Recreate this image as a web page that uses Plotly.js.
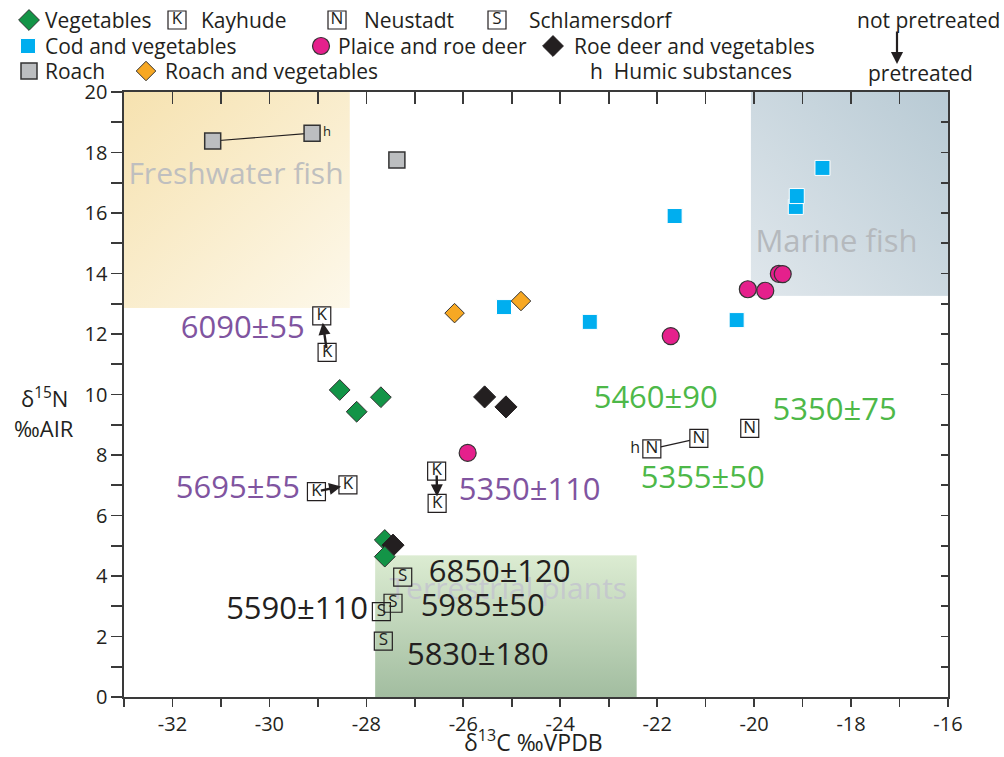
<!DOCTYPE html>
<html>
<head>
<meta charset="utf-8">
<script src="https://cdn.plot.ly/plotly-3.0.1.min.js"></script>
<style>html,body{margin:0;padding:0;background:#fff;}#chart{width:1004px;height:757px;}</style>
</head>
<body>
<div id="chart"></div>
<script>
// ---------------- DATA ----------------
const xRange = [-33, -16];
const yRange = [0, 20];
const xTickVals = [-32, -30, -28, -26, -24, -22, -20, -18, -16];
const yTickVals = [0, 2, 4, 6, 8, 10, 12, 14, 16, 18, 20];

const vegX = [-28.55, -28.20, -27.70, -27.62, -27.62];
const vegY = [10.15, 9.43, 9.91, 5.19, 4.64];

const codX = [-21.64, -18.59, -19.14, -19.12, -20.36, -25.16, -23.39];
const codY = [15.90, 17.49, 16.20, 16.56, 12.46, 12.89, 12.40];

const plaiceX = [-20.13, -19.77, -19.49, -19.41, -21.72, -25.91];
const plaiceY = [13.48, 13.43, 13.99, 13.98, 11.93, 8.07];

const roeX = [-25.56, -25.12, -27.45];
const roeY = [9.92, 9.59, 5.02];

const roachX = [-31.17, -29.12, -27.37];
const roachY = [18.38, 18.64, 17.75];
const roachHumic = [false, true, false];

const roachVegX = [-26.18, -24.81];
const roachVegY = [12.69, 13.09];

// Kayhude: not pretreated -> pretreated
const kayNotX = [-28.81, -29.03, -26.55];
const kayNotY = [11.39, 6.79, 7.47];
const kayPreX = [-28.92, -28.38, -26.54];
const kayPreY = [12.60, 7.01, 6.40];

const neuX = [-22.11, -21.14, -20.09];
const neuY = [8.20, 8.55, 8.88];
const neuHumic = [true, false, false];

const schX = [-27.25, -27.45, -27.69, -27.65];
const schY = [3.96, 3.10, 2.82, 1.85];

// radiocarbon dates
const kayDates = ['6090±55', '5695±55', '5350±110'];
const kayDateX = [-30.55, -30.65, -24.63];
const kayDateY = [12.13, 6.84, 6.78];

const neuDates = ['5460±90', '5350±75', '5355±50'];
const neuDateX = [-22.03, -18.34, -21.06];
const neuDateY = [9.82, 9.42, 7.17];

const schDates = ['6850±120', '5985±50', '5590±110', '5830±180'];
const schDateX = [-25.25, -25.60, -29.43, -25.70];
const schDateY = [4.07, 2.94, 2.84, 1.32];

// reference regions
const regionNames = ['Freshwater fish', 'Marine fish', 'Terrestrial plants'];
const regionX0 = [-33, -20.07, -27.82];
const regionX1 = [-28.34, -16, -22.42];
const regionY0 = [12.86, 13.26, 0];
const regionY1 = [20, 20, 4.69];
const regionLabelX = [-30.69, -18.30, -25.07];
const regionLabelY = [17.22, 14.98, 3.50];

// ---------------- STYLE ----------------
const FONT = 'Open Sans, Noto Sans, sans-serif';
const INK = '#231f20';
const PURPLE = '#8054a0';
const GREEN = '#4db848';
const regionGrad = [
  {c1: '#f6e2b0', c2: '#fdf8ea', x1: 0, y1: 0, x2: 1, y2: 1},
  {c1: '#b8cad4', c2: '#e0e7ec', x1: 1, y1: 0, x2: 0, y2: 1},
  {c1: '#dcecd2', c2: '#a2bda0', x1: 0, y1: 0, x2: 0, y2: 1}
];
const regionTextColor = ['#bfbfbf', '#b5b9bd', 'rgba(196,198,206,0.9)'];

function gradURI(g) {
  const svg = "<svg xmlns='http://www.w3.org/2000/svg' width='100' height='100' viewBox='0 0 100 100' preserveAspectRatio='none'>" +
    "<defs><linearGradient id='g' x1='" + g.x1 + "' y1='" + g.y1 + "' x2='" + g.x2 + "' y2='" + g.y2 + "'>" +
    "<stop offset='0' stop-color='" + g.c1 + "'/><stop offset='1' stop-color='" + g.c2 + "'/></linearGradient></defs>" +
    "<rect x='0' y='0' width='100' height='100' fill='url(#g)'/></svg>";
  return 'data:image/svg+xml;charset=utf-8,' + encodeURIComponent(svg);
}

const images = regionNames.map((n, i) => ({
  source: gradURI(regionGrad[i]), xref: 'x', yref: 'y',
  x: regionX0[i], y: regionY1[i],
  sizex: regionX1[i] - regionX0[i], sizey: regionY1[i] - regionY0[i],
  xanchor: 'left', yanchor: 'top', sizing: 'stretch', layer: 'below'
}));

const traces = [];

// region labels
traces.push({
  type: 'scatter', mode: 'text', x: regionLabelX, y: regionLabelY, text: regionNames,
  textfont: {family: FONT, size: [30, 31, 30], color: regionTextColor},
  hoverinfo: 'skip', showlegend: false, cliponaxis: false
});

// connecting lines for humic pairs
function humicLine(xs, ys, flags) {
  const h = flags.indexOf(true);
  const other = h === 0 ? 1 : h - 1;
  return {type: 'scatter', mode: 'lines', x: [xs[other], xs[h]], y: [ys[other], ys[h]],
    line: {color: INK, width: 1.2}, hoverinfo: 'skip', showlegend: false};
}
traces.push(humicLine(roachX, roachY, roachHumic));
traces.push(humicLine(neuX, neuY, neuHumic));

function boxed(xs, ys, letter, fill) {
  return {type: 'scatter', mode: 'markers+text', x: xs, y: ys, text: xs.map(() => letter),
    textposition: 'middle center', textfont: {family: FONT, size: 17, color: INK},
    marker: {symbol: 'square', size: 18, color: fill, line: {color: INK, width: 1.2}},
    hoverinfo: 'skip', showlegend: false, cliponaxis: false};
}

// Schlamersdorf boxes (transparent)
traces.push(boxed(schX, schY, 'S', 'rgba(255,255,255,0)'));

// point series
traces.push({type: 'scatter', mode: 'markers+text', x: roachX, y: roachY,
  text: roachHumic.map(f => f ? 'h' : ''), textposition: 'middle right',
  textfont: {family: FONT, size: 13, color: INK},
  marker: {symbol: 'square', size: 16, color: '#bcbec0', line: {color: '#333', width: 1.5}},
  hoverinfo: 'skip', showlegend: false, cliponaxis: false});
traces.push({type: 'scatter', mode: 'markers', x: codX, y: codY,
  marker: {symbol: 'square', size: 15, color: '#00aeef', line: {color: '#fff', width: 1}},
  hoverinfo: 'skip', showlegend: false});
traces.push({type: 'scatter', mode: 'markers', x: plaiceX, y: plaiceY,
  marker: {symbol: 'circle', size: 17, color: '#e5208c', line: {color: '#333', width: 1.2}},
  hoverinfo: 'skip', showlegend: false});
traces.push({type: 'scatter', mode: 'markers', x: roachVegX, y: roachVegY,
  marker: {symbol: 'diamond', size: 15, color: '#f7a823', line: {color: '#333', width: 1}},
  hoverinfo: 'skip', showlegend: false});
traces.push({type: 'scatter', mode: 'markers', x: vegX.slice(0, 4), y: vegY.slice(0, 4),
  marker: {symbol: 'diamond', size: 16, color: '#139447', line: {color: '#333', width: 1}},
  hoverinfo: 'skip', showlegend: false});
traces.push({type: 'scatter', mode: 'markers', x: roeX, y: roeY,
  marker: {symbol: 'diamond', size: 17, color: INK, line: {color: INK, width: 1}},
  hoverinfo: 'skip', showlegend: false});
traces.push({type: 'scatter', mode: 'markers', x: vegX.slice(4), y: vegY.slice(4),
  marker: {symbol: 'diamond', size: 16, color: '#139447', line: {color: '#333', width: 1}},
  hoverinfo: 'skip', showlegend: false});

// Kayhude and Neustadt boxes
traces.push(boxed(kayNotX.concat(kayPreX), kayNotY.concat(kayPreY), 'K', '#fff'));
traces.push(boxed(neuX, neuY, 'N', '#fff'));
traces.push({type: 'scatter', mode: 'text', x: [neuX[neuHumic.indexOf(true)]], y: [neuY[neuHumic.indexOf(true)]],
  text: ['h        '], textposition: 'middle center', textfont: {family: FONT, size: 16, color: INK},
  hoverinfo: 'skip', showlegend: false, cliponaxis: false});

// date labels
function dates(xs, ys, t, color) {
  return {type: 'scatter', mode: 'text', x: xs, y: ys, text: t, textposition: 'middle center',
    textfont: {family: FONT, size: 31, color: color}, hoverinfo: 'skip', showlegend: false, cliponaxis: false};
}
traces.push(dates(kayDateX, kayDateY, kayDates, PURPLE));
traces.push(dates(neuDateX, neuDateY, neuDates, GREEN));
traces.push(dates(schDateX, schDateY, schDates, INK));

// mirror axes (inside ticks on top/right)
traces.push({type: 'scatter', mode: 'markers', x: [null], y: [null], xaxis: 'x2', yaxis: 'y2',
  hoverinfo: 'skip', showlegend: false});

// ---------------- LEGEND (custom, pixel frame) ----------------
const legendItems = [
  {sym: 'diamond', size: 16, color: '#139447', line: '#333', lw: 1, sx: 29, sy: 20, label: 'Vegetables', tx: 43},
  {sym: 'box', letter: 'K', sx: 177, sy: 20, label: 'Kayhude', tx: 199},
  {sym: 'box', letter: 'N', sx: 337, sy: 20, label: 'Neustadt', tx: 362},
  {sym: 'box', letter: 'S', sx: 497, sy: 20, label: 'Schlamersdorf', tx: 527},
  {sym: 'square', size: 15, color: '#00aeef', line: '#fff', lw: 1, sx: 28, sy: 46, label: 'Cod and vegetables', tx: 43},
  {sym: 'circle', size: 17, color: '#e5208c', line: '#333', lw: 1.2, sx: 321, sy: 46, label: 'Plaice and roe deer', tx: 336},
  {sym: 'diamond', size: 16, color: INK, line: INK, lw: 1, sx: 553, sy: 46, label: 'Roe deer and vegetables', tx: 572},
  {sym: 'square', size: 16, color: '#bcbec0', line: '#333', lw: 1.5, sx: 29, sy: 71, label: 'Roach', tx: 43},
  {sym: 'diamond', size: 15, color: '#f7a823', line: '#333', lw: 1, sx: 146, sy: 71, label: 'Roach and vegetables', tx: 163},
  {sym: null, label: 'h  Humic substances', tx: 588, sy: 71}
];
legendItems.forEach(it => {
  if (it.sym === 'box') {
    traces.push({type: 'scatter', mode: 'markers+text', x: [it.sx], y: [it.sy], text: [it.letter],
      textposition: 'middle center', textfont: {family: FONT, size: 17, color: INK},
      marker: {symbol: 'square', size: 18, color: '#fff', line: {color: INK, width: 1.2}},
      xaxis: 'x3', yaxis: 'y3', hoverinfo: 'skip', showlegend: false, cliponaxis: false});
  } else if (it.sym) {
    traces.push({type: 'scatter', mode: 'markers', x: [it.sx], y: [it.sy],
      marker: {symbol: it.sym, size: it.size, color: it.color, line: {color: it.line, width: it.lw}},
      xaxis: 'x3', yaxis: 'y3', hoverinfo: 'skip', showlegend: false, cliponaxis: false});
  }
});

const annotations = legendItems.map(it => ({
  xref: 'paper', yref: 'paper', x: it.tx / 1004, y: 1 - it.sy / 757, xanchor: 'left', yanchor: 'middle',
  text: it.label, showarrow: false, font: {family: FONT, size: 21, color: INK}
}));
annotations.push({xref: 'paper', yref: 'paper', x: 1002 / 1004, y: 1 - 20 / 757, xanchor: 'right', yanchor: 'middle',
  text: 'not pretreated', showarrow: false, font: {family: FONT, size: 21, color: INK}});
annotations.push({xref: 'paper', yref: 'paper', x: 866 / 1004, y: 1 - 73 / 757, xanchor: 'left', yanchor: 'middle',
  text: 'pretreated', showarrow: false, font: {family: FONT, size: 21, color: INK}});
annotations.push({xref: 'paper', yref: 'paper', x: 897 / 1004, y: 1 - 64 / 757, ax: 0, ay: -34,
  text: '', showarrow: true, arrowhead: 2, arrowsize: 1.1, arrowwidth: 2.2, arrowcolor: INK});

// axis titles
annotations.push({xref: 'paper', yref: 'paper', x: 533 / 1004, y: 1 - 741 / 757, xanchor: 'center', yanchor: 'middle',
  text: 'δ<sup>13</sup>C ‰VPDB', showarrow: false, font: {family: FONT, size: 23, color: INK}});
annotations.push({xref: 'paper', yref: 'paper', x: 44 / 1004, y: 1 - 397 / 757, xanchor: 'center', yanchor: 'middle',
  text: 'δ<sup>15</sup>N', showarrow: false, font: {family: FONT, size: 22, color: INK}});
annotations.push({xref: 'paper', yref: 'paper', x: 44 / 1004, y: 1 - 428 / 757, xanchor: 'center', yanchor: 'middle',
  text: '‰AIR', showarrow: false, font: {family: FONT, size: 22, color: INK}});

// Kayhude pretreatment arrows
kayNotX.forEach((x0, i) => {
  annotations.push({xref: 'x', yref: 'y', axref: 'x', ayref: 'y', x: kayPreX[i], y: kayPreY[i], ax: x0, ay: kayNotY[i],
    text: '', showarrow: true, arrowhead: 2, arrowsize: 1, arrowwidth: 2.4, arrowcolor: INK,
    standoff: 7, startstandoff: 3});
});

const axisCommon = {showgrid: false, zeroline: false, showline: true, linecolor: '#3a3a3a', linewidth: 1.6,
  tickcolor: '#3a3a3a', tickwidth: 1.6, tickfont: {family: FONT, size: 20, color: INK}};

const layout = {
  width: 1004, height: 757,
  margin: {l: 0, r: 0, t: 0, b: 0},
  paper_bgcolor: '#fff', plot_bgcolor: 'rgba(0,0,0,0)',
  showlegend: false,
  images: images,
  annotations: annotations,
  xaxis: Object.assign({}, axisCommon, {domain: [124 / 1004, 948 / 1004], range: xRange, anchor: 'y',
    tickmode: 'array', tickvals: xTickVals, ticktext: xTickVals.map(String), ticks: 'outside', ticklen: 8,
    minor: {dtick: 1, ticks: 'outside', ticklen: 8, tickcolor: '#3a3a3a', tickwidth: 1.6}}),
  yaxis: Object.assign({}, axisCommon, {domain: [60 / 757, 665 / 757], range: yRange, anchor: 'x',
    tickmode: 'array', tickvals: yTickVals, ticktext: yTickVals.map(String), ticks: 'outside', ticklen: 11,
    minor: {dtick: 1, ticks: 'outside', ticklen: 11, tickcolor: '#3a3a3a', tickwidth: 1.6}}),
  xaxis2: Object.assign({}, axisCommon, {overlaying: 'x', side: 'top', anchor: 'y2', range: xRange,
    tick0: 0, dtick: 1, ticks: 'inside', ticklen: 12, showticklabels: false}),
  yaxis2: Object.assign({}, axisCommon, {overlaying: 'y', side: 'right', anchor: 'x2', range: yRange,
    tick0: 0, dtick: 1, ticks: 'inside', ticklen: 7, showticklabels: false}),
  xaxis3: {domain: [0, 1], range: [0, 1004], visible: false, anchor: 'y3', fixedrange: true},
  yaxis3: {domain: [0, 1], range: [757, 0], visible: false, anchor: 'x3', fixedrange: true}
};

Plotly.newPlot('chart', traces, layout, {staticPlot: true, displayModeBar: false});
</script>
</body>
</html>
